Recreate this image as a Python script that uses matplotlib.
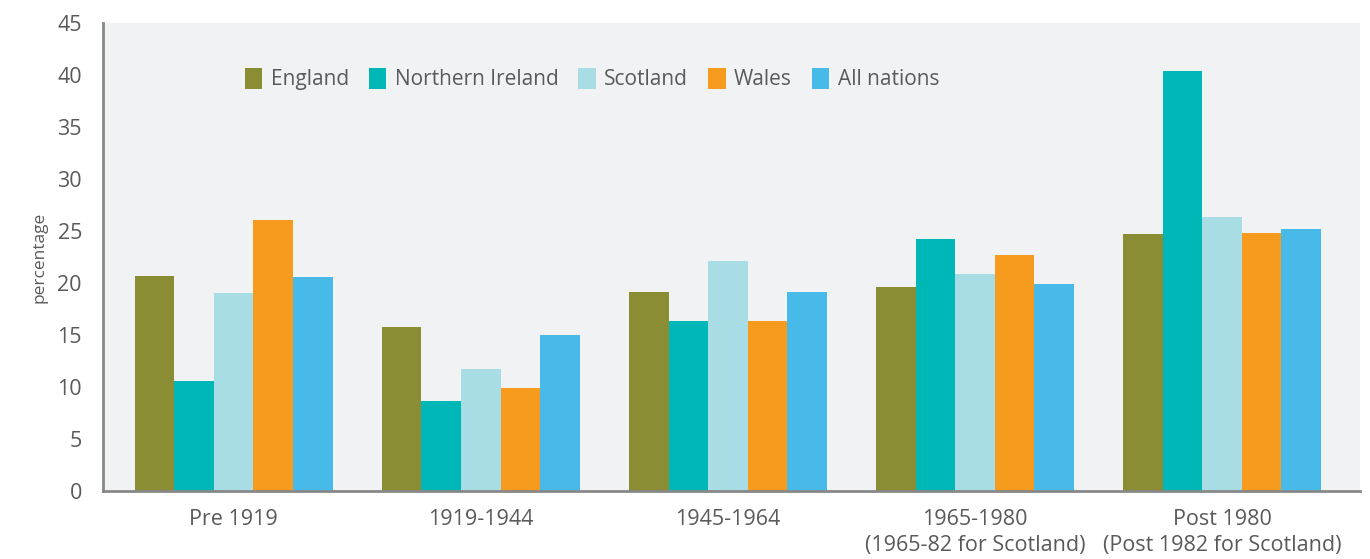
import matplotlib.pyplot as plt
import numpy as np

plt.rcParams['font.family'] = ['Open Sans', 'DejaVu Sans']

# Data
periods = ['Pre 1919', '1919-1944', '1945-1964',
           '1965-1980\n(1965-82 for Scotland)', 'Post 1980\n(Post 1982 for Scotland)']
nations = ['England', 'Northern Ireland', 'Scotland', 'Wales', 'All nations']
england = [20.7, 15.8, 19.1, 19.6, 24.7]
northern_ireland = [10.6, 8.7, 16.3, 24.2, 40.4]
scotland = [19.0, 11.7, 22.1, 20.9, 26.3]
wales = [26.1, 9.9, 16.3, 22.7, 24.8]
all_nations = [20.6, 15.0, 19.1, 19.9, 25.2]
colors = ['#8a8d34', '#00b7b8', '#a8dde6', '#f69b1e', '#47baea']

series = [england, northern_ireland, scotland, wales, all_nations]

fig = plt.figure(figsize=(13.7, 5.59), dpi=100)
ax = fig.add_axes([0.075, 0.1216, 0.918, 0.8374])
ax.set_facecolor('#f1f2f4')

x = np.arange(len(periods))
width = 0.16
for i, (vals, name, c) in enumerate(zip(series, nations, colors)):
    ax.bar(x + (i - 2) * width, vals, width, color=c, label=name)

ax.set_xlim(-0.53, 4.56)
ax.set_ylim(0, 45)
ax.set_yticks(range(0, 46, 5))
ax.set_xticks(x)
ax.set_xticklabels(periods)
ax.tick_params(axis='both', length=0, labelsize=15.5, colors='#5a5a5a')
ax.tick_params(axis='y', pad=15)
ax.tick_params(axis='x', pad=13)
for lbl in ax.get_xticklabels():
    lbl.set_linespacing(1.3)

for s in ['top', 'right']:
    ax.spines[s].set_visible(False)
for s in ['left', 'bottom']:
    ax.spines[s].set_color('#888888')
    ax.spines[s].set_linewidth(2)

ax.set_ylabel('percentage', fontsize=12.5, color='#5a5a5a', labelpad=7)

leg = ax.legend(ncol=5, frameon=False, loc='center left',
                bbox_to_anchor=(0.098, 0.88), fontsize=15,
                handlelength=0.85, handleheight=1.15, handletextpad=0.4,
                columnspacing=0.95)
for t in leg.get_texts():
    t.set_color('#5a5a5a')

fig.savefig('out.png', dpi=100)
